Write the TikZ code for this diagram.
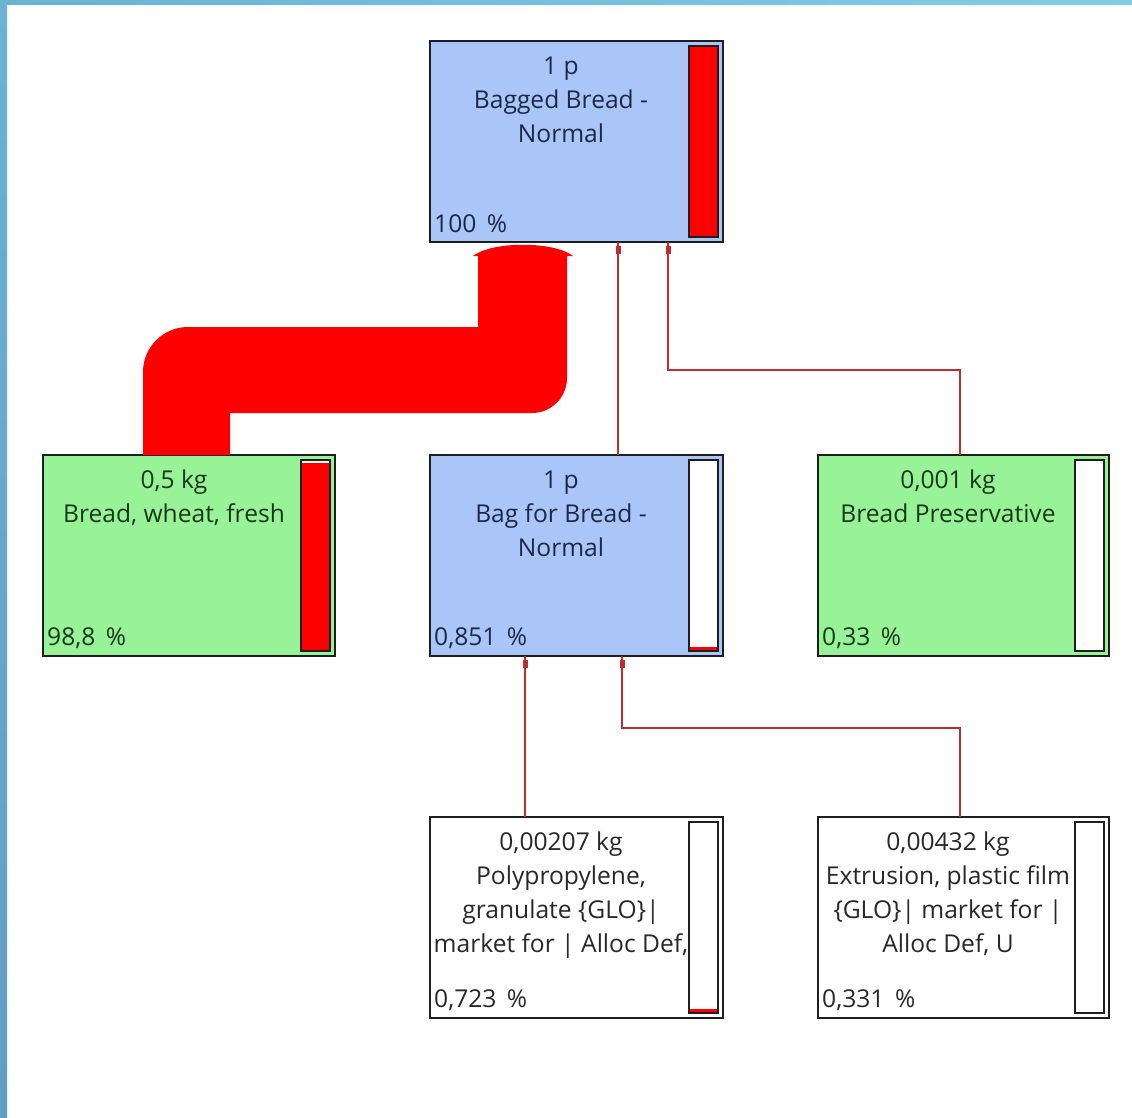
\documentclass[tikz,border=0pt]{standalone}
\usepackage{fontspec}
\setmainfont{Open Sans}
\usetikzlibrary{calc}
\definecolor{boxblue}{RGB}{170,198,248}
\definecolor{boxgreen}{RGB}{152,242,152}
\definecolor{txtblue}{RGB}{28,40,72}
\definecolor{txtgreen}{RGB}{24,56,24}
\definecolor{txtgray}{RGB}{40,40,40}
\definecolor{linkred}{RGB}{190,45,50}
\definecolor{frameA}{RGB}{108,178,210}
\definecolor{frameB}{RGB}{126,206,230}
\definecolor{frameC}{RGB}{96,158,194}
\definecolor{edge}{RGB}{30,30,30}
\begin{document}
\begin{tikzpicture}[x=1pt,y=-1pt,
 box/.style={draw=edge, line width=1.5pt, minimum width=293pt, minimum height=201pt, inner sep=0pt, outer sep=0pt, anchor=north west},
 lbl/.style={font=\fontsize{24.6}{34}\selectfont, align=center, inner sep=0pt, anchor=north},
 pct/.style={font=\fontsize{24.6}{28}\selectfont, inner sep=0pt, anchor=base west},
 barline/.style={draw=edge, line width=1.5pt},
 conn/.style={draw=linkred, line width=1.8pt},
 marker/.style={fill=linkred}]
\useasboundingbox (0,0) rectangle (1132,1117);
\fill[white] (0,0) rectangle (1132,1117);
\shade[left color=frameA, right color=frameB] (0,0) rectangle (1132,4);
\shade[top color=frameA, bottom color=frameC] (0,0) rectangle (7,1117);

% boxes
\node[box, fill=boxblue] (top) at (430,41) {};
\node[box, fill=boxgreen, minimum width=292pt] (bread) at (43,455) {};
\node[box, fill=boxblue] (bag) at (430,455) {};
\node[box, fill=boxgreen, minimum width=291pt] (pres) at (818,455) {};
\node[box, fill=white] (pp) at (430,817) {};
\node[box, fill=white, minimum width=291pt] (ext) at (818,817) {};

% bars
\foreach \n/\f in {top/1, bread/0.984, bag/0.02, pres/0, pp/0.02, ext/0}{
  \fill[white] ($(\n.north east)+(-34,5)$) rectangle ($(\n.south east)+(-5,-5)$);
  \fill[red] ($(\n.south east)+(-34,-5)$) rectangle ($(\n.south east)+(-5,-5-191*\f)$);
  \draw[barline] ($(\n.north east)+(-34,5)$) rectangle ($(\n.south east)+(-5,-5)$);
}

% labels
\node[lbl, text=txtblue] (topL) at ($(top.north west)+(131,11)$) {\rule{0pt}{22pt}1 p\\Bagged Bread -\\Normal};
\node[pct, text=txtblue] (topP) at ($(top.south west)+(4,-10)$) {100 \,\%};
\node[lbl, text=txtgreen] (breadL) at ($(bread.north west)+(131,11)$) {\rule{0pt}{22pt}0,5 kg\\Bread, wheat, fresh};
\node[pct, text=txtgreen] (breadP) at ($(bread.south west)+(4,-11)$) {98,8 \,\%};
\node[lbl, text=txtblue] (bagL) at ($(bag.north west)+(131,11)$) {\rule{0pt}{22pt}1 p\\Bag for Bread -\\Normal};
\node[pct, text=txtblue] (bagP) at ($(bag.south west)+(4,-11)$) {0,851 \,\%};
\node[lbl, text=txtgreen] (presL) at ($(pres.north west)+(130,11)$) {\rule{0pt}{22pt}0,001 kg\\Bread Preservative};
\node[pct, text=txtgreen] (presP) at ($(pres.south west)+(4,-11)$) {0,33 \,\%};
\node[lbl, text=txtgray] (ppL) at ($(pp.north west)+(131,11)$) {\rule{0pt}{22pt}0,00207 kg\\Polypropylene,\\granulate \{GLO\}|\\market for | Alloc Def,};
\node[pct, text=txtgray] (ppP) at ($(pp.south west)+(4,-11)$) {0,723 \,\%};
\node[lbl, text=txtgray] (extL) at ($(ext.north west)+(130,11)$) {\rule{0pt}{22pt}0,00432 kg\\Extrusion, plastic film\\\{GLO\}| market for |\\Alloc Def, U};
\node[pct, text=txtgray] (extP) at ($(ext.south west)+(4,-11)$) {0,331 \,\%};

% big flow band bread -> top
\fill[red] ($(bread.north west)+(100,0)$) -- ++(0,-83)
  arc[start angle=180,end angle=270,radius=45]
  -- ($(top.south west)+(48,85)$) -- ($(top.south west)+(48,14)$) -- ++(-5,0)
  .. controls ($(top.south west)+(62,-1)$) and ($(top.south west)+(124,-1)$) .. ($(top.south west)+(143,14)$) -- ++(-6,0)
  -- ($(top.south west)+(137,136)$)
  arc[start angle=0,end angle=90,radius=35]
  -- ($(bread.north west)+(187,-42)$) -- ($(bread.north west)+(187,0)$) -- cycle;

% thin connectors
\coordinate (tA) at ($(top.south west)+(188,0)$);
\coordinate (tB) at ($(top.south west)+(238,0)$);
\coordinate (mA) at ($(bag.south west)+(95,0)$);
\coordinate (mB) at ($(bag.south west)+(192,0)$);
\draw[conn] ($(bag.north west)+(188,0)$) -- (tA);
\draw[conn] ($(pres.north west)+(142,0)$) |- ($(tB)+(0,128)$) -- (tB);
\draw[conn] ($(pp.north west)+(95,0)$) -- (mA);
\draw[conn] ($(ext.north west)+(142,0)$) |- ($(mB)+(0,72)$) -- (mB);
\foreach \c in {tA,tB,mA,mB}{
  \fill[marker] ($(\c)+(-2.5,4)$) rectangle ($(\c)+(2.5,12)$);
}
\end{tikzpicture}
\end{document}
